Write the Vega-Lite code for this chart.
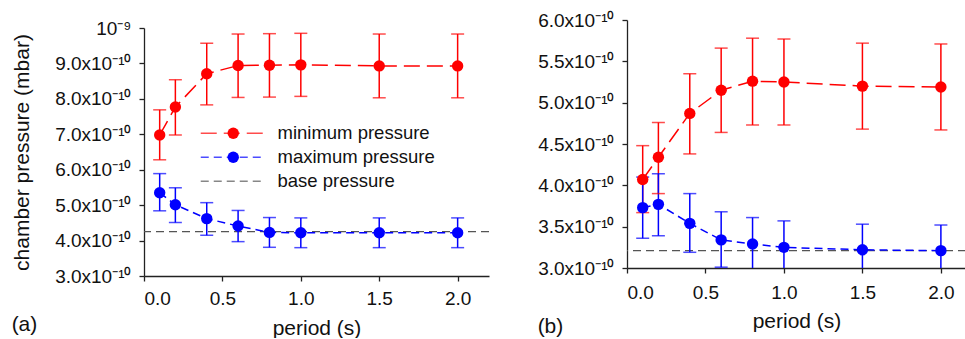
{
  "$schema": "https://vega.github.io/schema/vega-lite/v6.json",
  "padding": {"left": 11, "top": 11, "right": 0, "bottom": 0},
  "spacing": 47,
  "config": {
    "font": "Liberation Sans",
    "view": {"stroke": null},
    "axis": {"grid": false, "domainColor": "#222", "tickColor": "#222", "labelColor": "#111", "titleColor": "#111",
      "labelFontSize": 19, "titleFontSize": 21, "titleFontWeight": "normal", "tickSize": 5, "labelPadding": 8,
      "domainWidth": 1.3, "tickWidth": 1.3, "labelFont": "Liberation Sans", "titleFont": "Liberation Sans", "labelOverlap": false},
    "legend": {"labelFontSize": 18.5, "labelColor": "#111", "labelFont": "Liberation Sans"},
    "title": {"font": "Liberation Sans", "fontSize": 21, "fontWeight": "normal", "color": "#111"}
  },
  "datasets": {
    "a": [
      {"period": 0.1, "series": "minimum pressure", "value": 6.98e-10, "lo": 6.28e-10, "hi": 7.69e-10},
      {"period": 0.2, "series": "minimum pressure", "value": 7.77e-10, "lo": 6.98e-10, "hi": 8.54e-10},
      {"period": 0.4, "series": "minimum pressure", "value": 8.71e-10, "lo": 7.83e-10, "hi": 9.57e-10},
      {"period": 0.6, "series": "minimum pressure", "value": 8.94e-10, "lo": 8.04e-10, "hi": 9.83e-10},
      {"period": 0.8, "series": "minimum pressure", "value": 8.95e-10, "lo": 8.05e-10, "hi": 9.84e-10},
      {"period": 1.0, "series": "minimum pressure", "value": 8.96e-10, "lo": 8.07e-10, "hi": 9.85e-10},
      {"period": 1.5, "series": "minimum pressure", "value": 8.93e-10, "lo": 8.03e-10, "hi": 9.83e-10},
      {"period": 2.0, "series": "minimum pressure", "value": 8.93e-10, "lo": 8.03e-10, "hi": 9.83e-10},
      {"period": 0.1, "series": "maximum pressure", "value": 5.35e-10, "lo": 4.84e-10, "hi": 5.89e-10},
      {"period": 0.2, "series": "maximum pressure", "value": 5.01e-10, "lo": 4.51e-10, "hi": 5.49e-10},
      {"period": 0.4, "series": "maximum pressure", "value": 4.62e-10, "lo": 4.15e-10, "hi": 5.07e-10},
      {"period": 0.6, "series": "maximum pressure", "value": 4.41e-10, "lo": 3.97e-10, "hi": 4.85e-10},
      {"period": 0.8, "series": "maximum pressure", "value": 4.23e-10, "lo": 3.81e-10, "hi": 4.65e-10},
      {"period": 1.0, "series": "maximum pressure", "value": 4.22e-10, "lo": 3.80e-10, "hi": 4.64e-10},
      {"period": 1.5, "series": "maximum pressure", "value": 4.22e-10, "lo": 3.80e-10, "hi": 4.64e-10},
      {"period": 2.0, "series": "maximum pressure", "value": 4.22e-10, "lo": 3.80e-10, "hi": 4.64e-10}
    ],
    "baseA": [{"series": "base pressure", "value": 4.25e-10}],
    "b": [
      {"period": 0.1, "series": "minimum pressure", "value": 4.07e-10, "lo": 3.67e-10, "hi": 4.48e-10},
      {"period": 0.2, "series": "minimum pressure", "value": 4.34e-10, "lo": 3.90e-10, "hi": 4.76e-10},
      {"period": 0.4, "series": "minimum pressure", "value": 4.87e-10, "lo": 4.38e-10, "hi": 5.35e-10},
      {"period": 0.6, "series": "minimum pressure", "value": 5.15e-10, "lo": 4.64e-10, "hi": 5.66e-10},
      {"period": 0.8, "series": "minimum pressure", "value": 5.26e-10, "lo": 4.73e-10, "hi": 5.78e-10},
      {"period": 1.0, "series": "minimum pressure", "value": 5.25e-10, "lo": 4.73e-10, "hi": 5.77e-10},
      {"period": 1.5, "series": "minimum pressure", "value": 5.20e-10, "lo": 4.68e-10, "hi": 5.72e-10},
      {"period": 2.0, "series": "minimum pressure", "value": 5.19e-10, "lo": 4.67e-10, "hi": 5.71e-10},
      {"period": 0.1, "series": "maximum pressure", "value": 3.73e-10, "lo": 3.36e-10, "hi": 4.10e-10},
      {"period": 0.2, "series": "maximum pressure", "value": 3.77e-10, "lo": 3.39e-10, "hi": 4.14e-10},
      {"period": 0.4, "series": "maximum pressure", "value": 3.54e-10, "lo": 3.19e-10, "hi": 3.90e-10},
      {"period": 0.6, "series": "maximum pressure", "value": 3.34e-10, "lo": 3.01e-10, "hi": 3.68e-10},
      {"period": 0.8, "series": "maximum pressure", "value": 3.29e-10, "lo": 2.97e-10, "hi": 3.61e-10},
      {"period": 1.0, "series": "maximum pressure", "value": 3.25e-10, "lo": 2.93e-10, "hi": 3.57e-10},
      {"period": 1.5, "series": "maximum pressure", "value": 3.22e-10, "lo": 2.91e-10, "hi": 3.53e-10},
      {"period": 2.0, "series": "maximum pressure", "value": 3.21e-10, "lo": 2.90e-10, "hi": 3.52e-10}
    ],
    "baseB": [{"series": "base pressure", "value": 3.21e-10}]
  },
  "hconcat": [
    {
      "spacing": -2,
      "vconcat": [
        {"data": {"values": []}, "mark": "point", "width": 345, "height": 1},
        {
          "width": 345,
          "height": 248,
          "title": {"text": "(a)", "orient": "bottom", "anchor": "start", "frame": "bounds", "offset": -24},
          "layer": [
            {
              "data": {"name": "baseA"},
              "mark": {"type": "rule", "strokeWidth": 1.3},
              "encoding": {
                "y": {"field": "value", "type": "quantitative", "scale": {"domain": [3e-10, 1e-9]},
                  "axis": {"title": "chamber pressure (mbar)", "titlePadding": 22, "labelOverlap": false, "tickCount": 12,
                    "values": [3e-10, 4e-10, 5e-10, 6e-10, 7e-10, 8e-10, 9e-10, 1e-9],
                    "labelExpr": "datum.value > 9.5e-10 ? '10⁻⁹' : format(datum.value * 1e10, '.1f') + 'x10⁻¹⁰'"}},
                "color": {"field": "series", "type": "nominal",
                  "scale": {"domain": ["minimum pressure", "maximum pressure", "base pressure"], "range": ["#ff0000", "#0000ff", "#555555"]},
                  "legend": {"orient": "none", "legendX": 80, "legendY": 104, "title": null, "symbolType": "M-5,0H5", "symbolSize": 169, "symbolStrokeWidth": 1.5, "rowPadding": 5, "labelOffset": 35}},
                "strokeDash": {"field": "series", "type": "nominal",
                  "scale": {"domain": ["minimum pressure", "maximum pressure", "base pressure"], "range": [[16, 7], [8, 5], [8, 5]]},
                  "legend": {"orient": "none", "legendX": 80, "legendY": 104, "title": null, "symbolType": "M-5,0H5", "symbolSize": 169, "symbolStrokeWidth": 1.5, "rowPadding": 5, "labelOffset": 35}}
              }
            },
            {
              "data": {"name": "a"},
              "mark": {"type": "rule", "strokeWidth": 1.5},
              "encoding": {
                "x": {"field": "period", "type": "quantitative", "scale": {"domain": [0, 2.2], "nice": false},
                  "axis": {"title": "period (s)", "values": [0, 0.5, 1, 1.5, 2], "format": ".1f", "titlePadding": 9, "tickCount": 12}},
                "y": {"field": "lo", "type": "quantitative"},
                "y2": {"field": "hi"},
                "color": {"field": "series", "type": "nominal"}
              }
            },
            {
              "data": {"name": "a"},
              "mark": {"type": "tick", "orient": "horizontal", "size": 13, "thickness": 1.5},
              "encoding": {
                "x": {"field": "period", "type": "quantitative"},
                "y": {"field": "lo", "type": "quantitative"},
                "color": {"field": "series", "type": "nominal"}
              }
            },
            {
              "data": {"name": "a"},
              "mark": {"type": "tick", "orient": "horizontal", "size": 13, "thickness": 1.5},
              "encoding": {
                "x": {"field": "period", "type": "quantitative"},
                "y": {"field": "hi", "type": "quantitative"},
                "color": {"field": "series", "type": "nominal"}
              }
            },
            {
              "data": {"name": "a"},
              "mark": {"type": "line", "strokeWidth": 1.5},
              "encoding": {
                "x": {"field": "period", "type": "quantitative"},
                "y": {"field": "value", "type": "quantitative"},
                "color": {"field": "series", "type": "nominal"},
                "strokeDash": {"field": "series", "type": "nominal"}
              }
            },
            {
              "data": {"name": "a"},
              "mark": {"type": "circle", "size": 130, "opacity": 1},
              "encoding": {
                "x": {"field": "period", "type": "quantitative"},
                "y": {"field": "value", "type": "quantitative"},
                "fill": {"field": "series", "type": "nominal",
                  "scale": {"domain": ["minimum pressure", "maximum pressure"], "range": ["#ff0000", "#0000ff"]},
                  "legend": {"orient": "none", "legendX": 80, "legendY": 104, "title": null, "symbolType": "circle", "symbolSize": 130, "symbolStrokeWidth": 0, "rowPadding": 5, "labelExpr": "''", "symbolOpacity": 1}}
              }
            }
          ]
        }
      ]
    },
    {
      "width": 339,
      "height": 248,
      "title": {"text": "(b)", "orient": "bottom", "anchor": "start", "frame": "bounds", "offset": -15},
      "layer": [
        {
          "data": {"name": "baseB"},
          "mark": {"type": "rule", "strokeWidth": 1.3},
          "encoding": {
            "y": {"field": "value", "type": "quantitative", "scale": {"domain": [3e-10, 6e-10]},
              "axis": {"title": null, "labelOverlap": false, "tickCount": 12,
                "values": [3e-10, 3.5e-10, 4e-10, 4.5e-10, 5e-10, 5.5e-10, 6e-10],
                "labelExpr": "format(datum.value * 1e10, '.1f') + 'x10⁻¹⁰'"}},
            "color": {"field": "series", "type": "nominal",
              "scale": {"domain": ["minimum pressure", "maximum pressure", "base pressure"], "range": ["#ff0000", "#0000ff", "#555555"]},
              "legend": null},
            "strokeDash": {"field": "series", "type": "nominal",
              "scale": {"domain": ["minimum pressure", "maximum pressure", "base pressure"], "range": [[16, 7], [8, 5], [8, 5]]},
              "legend": null}
          }
        },
        {
          "data": {"name": "b"},
          "mark": {"type": "rule", "strokeWidth": 1.5, "clip": true},
          "encoding": {
            "x": {"field": "period", "type": "quantitative", "scale": {"domain": [0, 2.16], "nice": false},
              "axis": {"title": "period (s)", "values": [0, 0.5, 1, 1.5, 2], "format": ".1f", "titlePadding": 8, "labelPadding": 10, "tickCount": 12}},
            "y": {"field": "lo", "type": "quantitative"},
            "y2": {"field": "hi"},
            "color": {"field": "series", "type": "nominal", "legend": null}
          }
        },
        {
          "data": {"name": "b"},
          "mark": {"type": "tick", "orient": "horizontal", "size": 13, "thickness": 1.5, "clip": true},
          "encoding": {
            "x": {"field": "period", "type": "quantitative"},
            "y": {"field": "lo", "type": "quantitative"},
            "color": {"field": "series", "type": "nominal", "legend": null}
          }
        },
        {
          "data": {"name": "b"},
          "mark": {"type": "tick", "orient": "horizontal", "size": 13, "thickness": 1.5, "clip": true},
          "encoding": {
            "x": {"field": "period", "type": "quantitative"},
            "y": {"field": "hi", "type": "quantitative"},
            "color": {"field": "series", "type": "nominal", "legend": null}
          }
        },
        {
          "data": {"name": "b"},
          "mark": {"type": "line", "strokeWidth": 1.5},
          "encoding": {
            "x": {"field": "period", "type": "quantitative"},
            "y": {"field": "value", "type": "quantitative"},
            "color": {"field": "series", "type": "nominal", "legend": null},
            "strokeDash": {"field": "series", "type": "nominal", "legend": null}
          }
        },
        {
          "data": {"name": "b"},
          "mark": {"type": "circle", "size": 130, "opacity": 1},
          "encoding": {
            "x": {"field": "period", "type": "quantitative"},
            "y": {"field": "value", "type": "quantitative"},
            "fill": {"field": "series", "type": "nominal",
              "scale": {"domain": ["minimum pressure", "maximum pressure"], "range": ["#ff0000", "#0000ff"]},
              "legend": null}
          }
        }
      ]
    }
  ]
}
